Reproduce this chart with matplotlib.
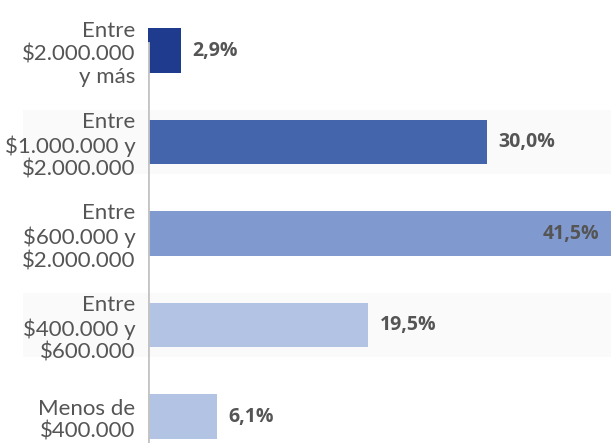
import matplotlib
matplotlib.use("Agg")
import matplotlib.pyplot as plt
import numpy as np

# data
categories = ["Entre\n$2.000.000\ny más",
              "Entre\n$1.000.000 y\n$2.000.000",
              "Entre\n$600.000 y\n$2.000.000",
              "Entre\n$400.000 y\n$600.000",
              "Menos de\n$400.000"]
values = [2.9, 30.0, 41.5, 19.5, 6.1]
value_labels = ["2,9%", "30,0%", "41,5%", "19,5%", "6,1%"]
colors = ["#1f3b8e", "#4465ab", "#8099cf", "#b3c3e3", "#b3c3e3"]

W, H = 611, 443
fig = plt.figure(figsize=(W / 100, H / 100), dpi=100)
fig.patch.set_facecolor("white")
ax = fig.add_axes([148 / W, 0, (W - 148) / W, 1])

xmax = 41.0
row_px = 91.5
y = np.arange(len(categories))

# alternating light bands behind rows 2 and 4
for i in y[1::2]:
    ax.axhspan(i - 0.345, i + 0.345, xmin=-(148 - 23) / (W - 148), xmax=1,
               color="#fafafa", zorder=0, clip_on=False, lw=0)

ax.barh(y, values, height=0.49, color=colors, zorder=2)

for yi, v, lab in zip(y, values, value_labels):
    if v > xmax:
        ax.text(xmax - 1.0, yi, lab, ha="right", va="center", fontsize=14,
                fontweight="bold", color="#555555", family="Open Sans", zorder=3)
    else:
        ax.text(v + 1.0, yi, lab, ha="left", va="center", fontsize=14,
                fontweight="bold", color="#555555", family="Open Sans", zorder=3)

ax.set_xlim(0, xmax)
ax.set_ylim(4 + 26.5 / row_px, -50.5 / row_px)
ax.set_yticks(y)
ax.set_yticklabels(categories, fontsize=16, color="#555555", family="Lato",
                   linespacing=1.2)
ax.tick_params(axis="y", length=0, pad=9)
ax.set_xticks([])
for s in ax.spines.values():
    s.set_visible(False)
ax.axvline(0, ymin=0, ymax=1 - 43 / H, color="#c4c4c4", lw=2, zorder=4)
ax.set_facecolor("none")

fig.savefig("out.png", dpi=100)
